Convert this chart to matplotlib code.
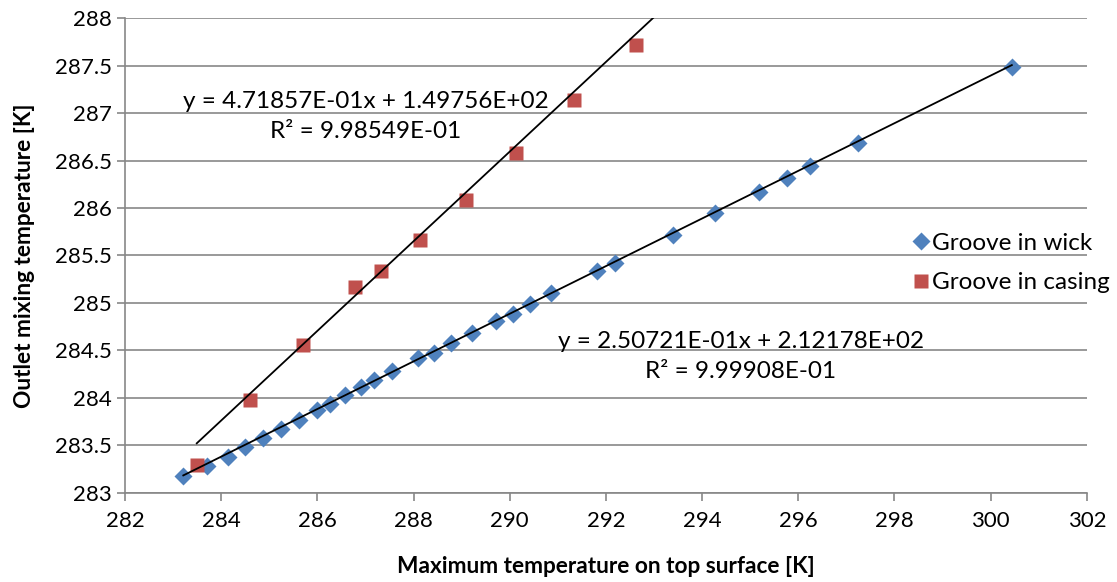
import matplotlib.pyplot as plt
import numpy as np

plt.rcParams['font.family'] = ['Lato', 'DejaVu Sans']

# Groove in wick
wick_x = [283.21, 283.70, 284.14, 284.49, 284.87, 285.24, 285.62, 286.00, 286.26,
          286.57, 286.91, 287.18, 287.55, 288.09, 288.42, 288.78, 289.21, 289.71,
          290.07, 290.42, 290.86, 291.81, 292.19, 293.39, 294.27, 295.18, 295.76,
          296.24, 297.24, 300.44]
wick_y = [283.18, 283.28, 283.38, 283.48, 283.58, 283.67, 283.77, 283.87, 283.94,
          284.03, 284.12, 284.19, 284.28, 284.42, 284.47, 284.58, 284.68, 284.81,
          284.88, 284.99, 285.11, 285.34, 285.42, 285.72, 285.95, 286.17, 286.32,
          286.44, 286.68, 287.48]

# Groove in casing
casing_x = [283.49, 284.60, 285.69, 286.78, 287.32, 288.13, 289.08, 290.12, 291.34, 292.62]
casing_y = [283.29, 283.98, 284.56, 285.17, 285.34, 285.66, 286.08, 286.58, 287.14, 287.72]

# linear trendlines (slope, intercept) as reported
wick_fit = (2.50721e-01, 2.12178e+02)
casing_fit = (4.71857e-01, 1.49756e+02)
wick_r2 = 9.99908e-01
casing_r2 = 9.98549e-01

blue = '#4F81BD'
red = '#C0504D'
grey = '#878787'

fig = plt.figure(figsize=(11.17, 5.82), dpi=100)
ax = fig.add_axes([0.112, 0.153, 0.861, 0.816])

ax.set_axisbelow(True)
ax.grid(axis='y', color=grey, lw=1.2)

ax.plot(wick_x, wick_y, 'D', color=blue, ms=9.5, mec='none', label='Groove in wick', zorder=2)
ax.plot(casing_x, casing_y, 's', color=red, ms=10.5, mec='none', label='Groove in casing', zorder=2)

xs = np.array([min(wick_x), max(wick_x)])
ax.plot(xs, wick_fit[0] * xs + wick_fit[1], color='black', lw=1.3, zorder=3)
xs = np.array([min(casing_x), 293.5])
ax.plot(xs, casing_fit[0] * xs + casing_fit[1], color='black', lw=1.3, zorder=3)

ax.set_xlim(282, 302)
ax.set_ylim(283, 288)
ax.set_xticks(np.arange(282, 303, 2))
ax.set_yticks(np.arange(283, 288.01, 0.5))
ax.set_yticklabels(['%g' % v for v in np.arange(283, 288.01, 0.5)])

for s in ['top', 'right']:
    ax.spines[s].set_visible(False)
for s in ['left', 'bottom']:
    ax.spines[s].set_color(grey)
    ax.spines[s].set_linewidth(1.2)
ax.tick_params(colors=grey, labelcolor='black', labelsize=16, length=6, width=1.2)
ax.tick_params(axis='x', pad=7)

ax.set_xlabel('Maximum temperature on top surface [K]', fontsize=16.3, fontweight='bold', labelpad=18)
ax.set_ylabel('Outlet mixing temperature [K]', fontsize=16.3, fontweight='bold', labelpad=14)

ax.text(0.25, 0.793,
        'y = %.5Ex + %.5E' % casing_fit + '\n' + 'R² = %.5E' % casing_r2,
        transform=ax.transAxes, ha='center', va='center', fontsize=17.5,
        linespacing=1.5, multialignment='center')
ax.text(0.64, 0.287,
        'y = %.5Ex + %.5E' % wick_fit + '\n' + 'R² = %.5E' % wick_r2,
        transform=ax.transAxes, ha='center', va='center', fontsize=17.5,
        linespacing=1.5, multialignment='center')

fig.legend(loc='center left', bbox_to_anchor=(0.795, 0.548), frameon=False,
           fontsize=17.5, handletextpad=0.0, handlelength=0.9, labelspacing=0.75)

fig.savefig('out.png', dpi=100)
